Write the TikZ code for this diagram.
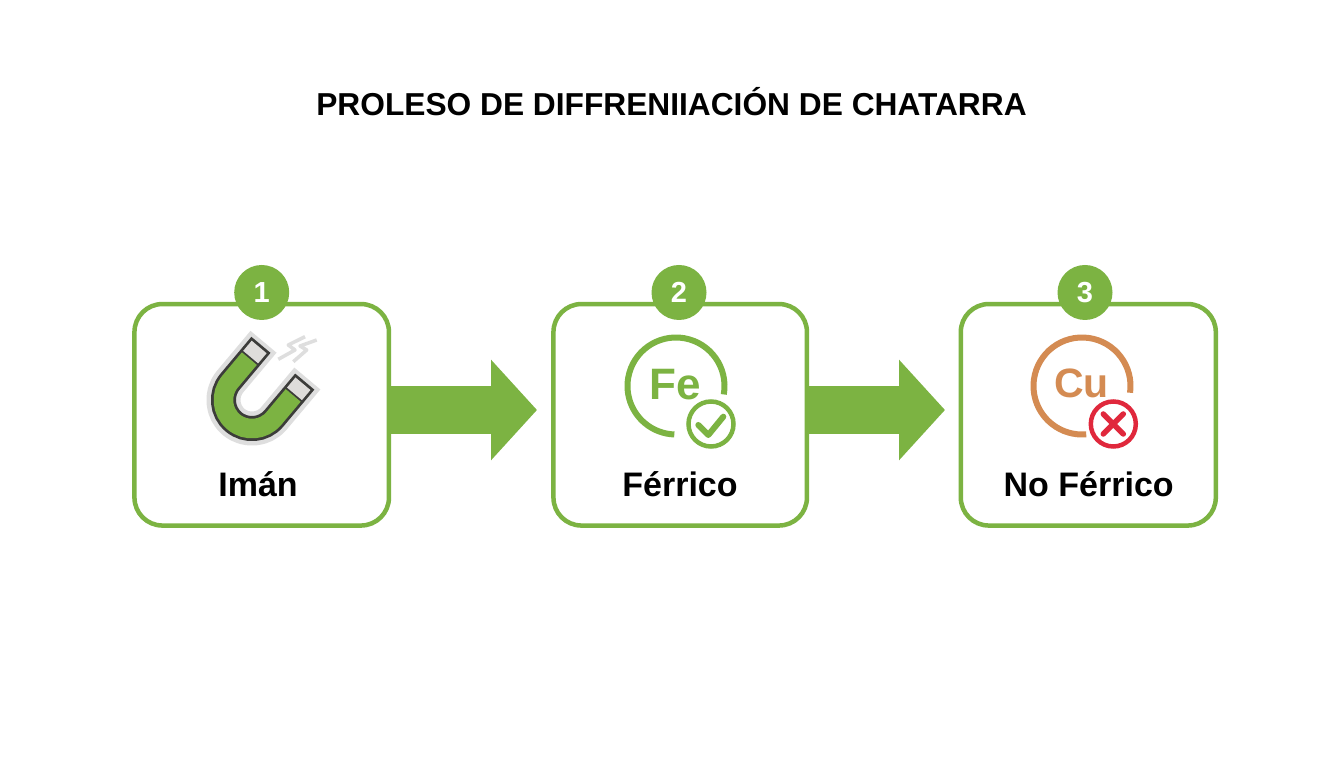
\documentclass[tikz,border=0pt]{standalone}
\usepackage{fontspec}
\setmainfont{Liberation Sans}
\usetikzlibrary{arrows.meta}
\definecolor{leaf}{HTML}{7CB342}
\definecolor{copper}{HTML}{D48B52}
\definecolor{alert}{HTML}{E0283C}
\definecolor{polegray}{HTML}{DEDCDA}
\definecolor{halogray}{HTML}{DEDEDE}
\definecolor{inkdark}{HTML}{3C3C3A}
\tikzset{
  stepbox/.style={draw=leaf, line width=4.5pt, rounded corners=28pt, fill=white, inner sep=0pt},
  badge/.style={circle, fill=leaf, text=white, minimum size=55pt, inner sep=0pt,
    font=\fontsize{29}{36}\selectfont\bfseries},
  steplabel/.style={anchor=base, text=black, inner sep=0pt, font=\fontsize{34}{40}\selectfont\bfseries},
  flowarrow/.style={draw=leaf, line width=48pt, -{Triangle[length=46pt,width=98pt]}},
  ring/.style={line width=6pt},
  symbol/.style={inner sep=0pt, font=\fontsize{44}{50}\selectfont\bfseries}
}
\begin{document}
\begin{tikzpicture}[x=1pt,y=1pt]
    \useasboundingbox[fill=white] (0,0) rectangle (1344,768);
    \node[inner sep=0pt, font=\fontsize{31.7}{36}\selectfont\bfseries] (title) at (671.5,666) {PROLESO DE DIFFRENIIACIÓN DE CHATARRA};
    % boxes, badges and labels
    \foreach \s/\cx/\w/\bx/\lx/\txt in {1/261.7/254.5/261.7/258/Imán,2/680.2/253.5/679/680/Férrico,3/1088.3/255/1085/1088.7/No Férrico}
    {
      \node[stepbox, minimum width=\w pt, minimum height=221.5pt] (box\s) at (\cx,353.2) {};
      \node[badge] (badge\s) at (\bx,475.5) {\s};
      \node[steplabel] (label\s) at (\lx,271) {\txt};
    }
    % arrows
    \coordinate (tipa) at (537,358);
    \coordinate (tipb) at (945,358);
    \draw[flowarrow] (tipa -| box1.east) -- (tipa);
    \draw[flowarrow] (tipb -| box2.east) -- (tipb);
    % magnet
    \begin{scope}[shift={(252,368)}, rotate=-40]
      \draw[halogray, line width=34pt, line join=round] (-28.6,52) -- (-28.6,0) arc (180:360:28.6) -- (28.6,52);
      \draw[inkdark, line width=25pt] (-28.6,48) -- (-28.6,0) arc (180:360:28.6) -- (28.6,48);
      \draw[leaf, line width=19.5pt] (-28.6,30) -- (-28.6,0) arc (180:360:28.6) -- (28.6,30);
      \foreach \sx in {-28.6,28.6}
      {
        \fill[polegray] (\sx-9.75,32) rectangle (\sx+9.75,45.2);
      }
    \end{scope}
    \draw[halogray, line width=3.5pt, line join=round] (278.3,408.7) -- (295,418) -- (288.3,423) -- (305,431.3);
    \draw[halogray, line width=3.5pt, line join=round] (293.3,406.3) -- (306.7,418) -- (300,422) -- (316.7,428);
    % iron
    \draw[leaf, ring] (676,382) ++(-10:48.5) arc (-10:268:48.5);
    \node[symbol, text=leaf] (fe) at (675,383) {Fe};
    \draw[leaf, line width=4.5pt, fill=white] (711,344) circle (22.5);
    \draw[leaf, line width=6pt, line join=round, line cap=round] (698.3,343) -- (708.3,333) -- (723.3,351.3);
    % copper
    \draw[copper, ring] (1082,382) ++(-8:48.5) arc (-8:275:48.5);
    \node[symbol, text=copper, font=\fontsize{41}{50}\selectfont\bfseries] (cu) at (1081.7,385) {Cu};
    \draw[alert, line width=4.5pt, fill=white] (1113.3,344) circle (22.5);
    \draw[alert, line width=5.5pt, line cap=round] (1103.3,354) -- (1123.3,334);
    \draw[alert, line width=5.5pt, line cap=round] (1103.3,334) -- (1123.3,354);
\end{tikzpicture}
\end{document}
